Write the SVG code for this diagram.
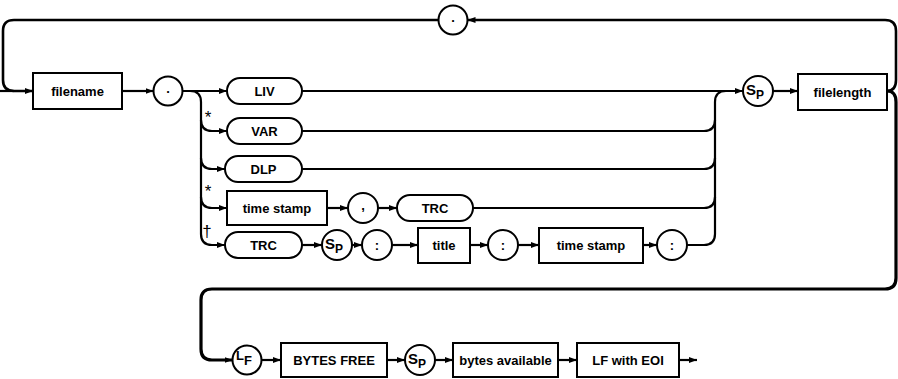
<svg xmlns="http://www.w3.org/2000/svg" width="898" height="379" viewBox="0 0 898 379">
<defs>
<marker id="a" viewBox="0 0 8 6" refX="8" refY="3" markerWidth="8" markerHeight="6" markerUnits="userSpaceOnUse" orient="auto"><path d="M0,0 L8,3 L0,6 z" fill="#000"/></marker>
<style>
.n{fill:#fff;stroke:#000;stroke-width:2}
.t{font-family:"Liberation Sans",Arial,sans-serif;font-weight:bold;font-size:13px;text-anchor:middle;fill:#000}
.s{font-family:"Liberation Sans",Arial,sans-serif;font-weight:bold;font-size:15px;text-anchor:middle;fill:#000}
.c{fill:none;stroke:#000;stroke-width:2.2}
.ar{marker-end:url(#a)}
.m{font-family:"Liberation Sans",Arial,sans-serif;font-size:17px;text-anchor:middle;fill:#000000}
</style>
</defs>
<g id="connectors">
<path class="c" d="M0,91 H14"/>
<path class="c ar" style="stroke-width:2.6" d="M887,91 Q896,91 896,80 V31 Q896,20 885,20 H467.5"/>
<path class="c ar" style="stroke-width:2.6" d="M438.5,20 H14 Q3,20 3,31 V80 Q3,91 14,91 H33"/>
<path class="c ar" d="M122,91 H153.5"/>
<path class="c ar" d="M182.5,91 H227"/>
<path class="c" d="M190,91 Q201,91 201,102 V234"/>
<path class="c ar" d="M201,120 Q201,131 212,131 H227"/>
<path class="c ar" d="M201,158 Q201,169 212,169 H225"/>
<path class="c ar" d="M201,197 Q201,208 212,208 H227"/>
<path class="c ar" d="M201,234 Q201,245 212,245 H225"/>
<path class="c ar" d="M302,91 H743"/>
<path class="c" d="M302,131 H704 Q715,131 715,120"/>
<path class="c" d="M302,169 H704 Q715,169 715,158"/>
<path class="c" d="M473,208 H704 Q715,208 715,197"/>
<path class="c" d="M687,245 H704 Q715,245 715,234 V102 Q715,91 726,91"/>
<path class="c ar" d="M327,208 H348"/>
<path class="c ar" d="M378,208 H397"/>
<path class="c ar" d="M302,245 H322"/>
<path class="c ar" d="M352,245 H362"/>
<path class="c ar" d="M392,245 H418"/>
<path class="c ar" d="M470,245 H488"/>
<path class="c ar" d="M518,245 H539"/>
<path class="c ar" d="M643,245 H657"/>
<path class="c ar" d="M773,91 H798"/>
<path class="c ar" style="stroke-width:3.2" d="M887,91 Q896,91 896,102 V278 Q896,289 885,289 H212 Q201,289 201,300 V349 Q201,360 212,360 H232.5"/>
<path class="c ar" d="M261.5,360 H281"/>
<path class="c ar" d="M387,360 H405"/>
<path class="c ar" d="M435,360 H453"/>
<path class="c ar" d="M558,360 H577"/>
<path class="c ar" d="M679,360 H697"/>
</g>
<g id="comma-loop"><circle class="n" cx="453" cy="20" r="14.5"/><text class="t" x="453" y="22">.</text></g>
<g id="filename"><rect class="n" x="33" y="73" width="89" height="36"/><text class="t" x="77.5" y="95.5">filename</text></g>
<g id="dot"><circle class="n" cx="168" cy="91" r="14.5"/><text class="t" x="168" y="93">.</text></g>
<g id="liv"><rect class="n" x="227" y="78" width="75" height="26" rx="13"/><text class="t" x="264.5" y="95.5">LIV</text></g>
<g id="var"><rect class="n" x="227" y="118" width="75" height="26" rx="13"/><text class="t" x="264.5" y="135.5">VAR</text></g>
<g id="dlp"><rect class="n" x="225" y="156" width="77" height="26" rx="13"/><text class="t" x="263.5" y="173.5">DLP</text></g>
<g id="timestamp1"><rect class="n" x="227" y="191" width="100" height="34"/><text class="t" x="277" y="212.5">time stamp</text></g>
<g id="comma"><circle class="n" cx="363" cy="208" r="15"/><text class="t" x="363" y="210">,</text></g>
<g id="trc1"><rect class="n" x="397" y="195" width="76" height="26" rx="13"/><text class="t" x="435" y="212.5">TRC</text></g>
<g id="trc2"><rect class="n" x="225" y="232" width="77" height="26" rx="13"/><text class="t" x="263.5" y="249.5">TRC</text></g>
<g id="sp2"><circle class="n" cx="337" cy="245" r="15"/><text class="s" x="334" y="249">S<tspan font-size="12" dy="4">P</tspan></text></g>
<g id="colon1"><circle class="n" cx="377" cy="245" r="15"/><text class="t" x="377" y="249.5">:</text></g>
<g id="title"><rect class="n" x="418" y="228" width="52" height="35"/><text class="t" x="444" y="250">title</text></g>
<g id="colon2"><circle class="n" cx="503" cy="245" r="15"/><text class="t" x="503" y="249.5">:</text></g>
<g id="timestamp2"><rect class="n" x="539" y="228" width="104" height="35"/><text class="t" x="591" y="250">time stamp</text></g>
<g id="colon3"><circle class="n" cx="672" cy="245" r="15"/><text class="t" x="672" y="249.5">:</text></g>
<g id="sp1"><circle class="n" cx="758" cy="91" r="15"/><text class="s" x="755" y="95">S<tspan font-size="12" dy="4">P</tspan></text></g>
<g id="filelength"><rect class="n" x="798" y="74" width="89" height="36"/><text class="t" x="842.5" y="96.5">filelength</text></g>
<g id="lf"><circle class="n" cx="247" cy="360" r="14.5"/><text class="t" x="244" y="360">L<tspan dy="5">F</tspan></text></g>
<g id="bytesfree"><rect class="n" x="281" y="343" width="106" height="34"/><text class="t" x="334" y="364.5">BYTES FREE</text></g>
<g id="sp3"><circle class="n" cx="420" cy="360" r="15"/><text class="s" x="417" y="364">S<tspan font-size="12" dy="4">P</tspan></text></g>
<g id="bytesavailable"><rect class="n" x="453" y="343" width="105" height="34"/><text class="t" x="505.5" y="364.5">bytes available</text></g>
<g id="lfeoi"><rect class="n" x="577" y="343" width="102" height="34"/><text class="t" x="628" y="364.5">LF with EOI</text></g>
<g id="marks">
<text class="m" x="208" y="123">*</text>
<text class="m" x="208" y="197">*</text>
<text class="m" x="207" y="237">†</text>
</g>
</svg>
